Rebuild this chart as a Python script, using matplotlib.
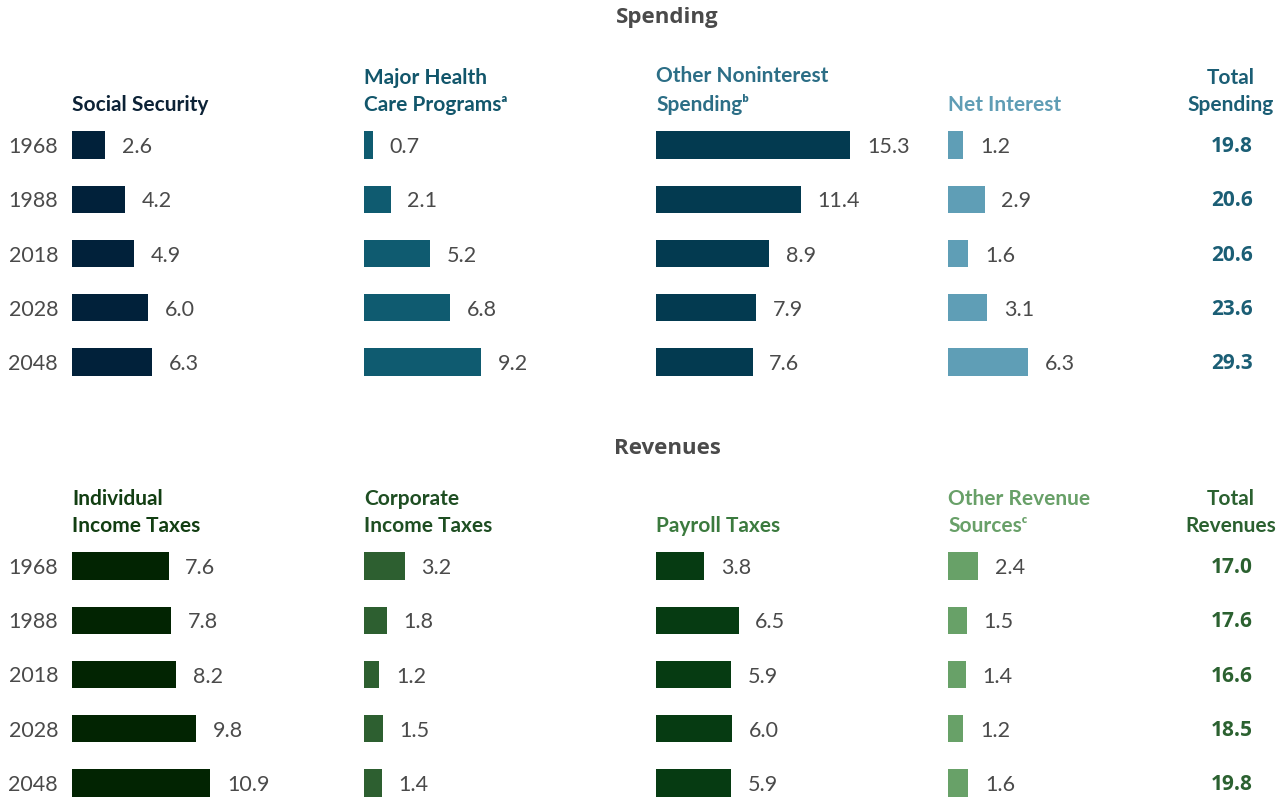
#!/usr/bin/python3
# -*- coding: utf-8 -*-
import matplotlib
matplotlib.use('Agg')
import matplotlib.pyplot as plt

plt.rcParams['font.family'] = ['Lato', 'DejaVu Sans']

years = ['1968', '1988', '2018', '2028', '2048']

# spending, percent of GDP
social_security = [2.6, 4.2, 4.9, 6.0, 6.3]
health_care = [0.7, 2.1, 5.2, 6.8, 9.2]
other_noninterest = [15.3, 11.4, 8.9, 7.9, 7.6]
net_interest = [1.2, 2.9, 1.6, 3.1, 6.3]
total_spending = [19.8, 20.6, 20.6, 23.6, 29.3]

# revenues, percent of GDP
individual_income = [7.6, 7.8, 8.2, 9.8, 10.9]
corporate_income = [3.2, 1.8, 1.2, 1.5, 1.4]
payroll = [3.8, 6.5, 5.9, 6.0, 5.9]
other_revenue = [2.4, 1.5, 1.4, 1.2, 1.6]
total_revenues = [17.0, 17.6, 16.6, 18.5, 19.8]

spending_panels = [
    ('Social Security', social_security, '#01213a', '#0c2236'),
    ('Major Health\nCare Programs\u1d43', health_care, '#0f5b70', '#12566b'),
    ('Other Noninterest\nSpending\u1d47', other_noninterest, '#033a50', '#2c6e86'),
    ('Net Interest', net_interest, '#5f9eb6', '#5f9db5'),
]
revenue_panels = [
    ('Individual\nIncome Taxes', individual_income, '#022402', '#123e12'),
    ('Corporate\nIncome Taxes', corporate_income, '#2d5f30', '#1e4e22'),
    ('Payroll Taxes', payroll, '#063b12', '#3b7a3e'),
    ('Other Revenue\nSources\u1d9c', other_revenue, '#68a168', '#68a068'),
]

W, H = 1280, 798
PX_PER_UNIT = 12.7
PANEL_W = 280
panel_left = [72, 364, 656, 948]
text_gray = '#4a4a4a'

fig = plt.figure(figsize=(W / 100, H / 100), dpi=100)


def fx(px):
    return px / W


def fy(py):
    return 1 - py / H


def draw_section(title, title_y, panels, first_row, total_label, totals, total_color):
    fig.text(fx(667), fy(title_y), title, ha='center', va='center', fontsize=16,
             fontweight='bold', color=text_gray, family=['Open Sans', 'DejaVu Sans'])
    row_gap = 54.25
    top = first_row - row_gap / 2
    height = row_gap * len(years)
    for i, (name, vals, bar_color, head_color) in enumerate(panels):
        ax = fig.add_axes([fx(panel_left[i]), fy(top + height), fx(PANEL_W), height / H])
        ax.barh(range(len(years)), vals, height=0.5, color=bar_color)
        ax.set_xlim(0, PANEL_W / PX_PER_UNIT)
        ax.set_ylim(len(years) - 0.5, -0.5)
        for s in ax.spines.values():
            s.set_visible(False)
        ax.set_xticks([])
        if i == 0:
            ax.set_yticks(range(len(years)))
            ax.set_yticklabels(years, fontsize=15.5, color=text_gray)
            ax.tick_params(axis='y', length=0, pad=10)
        else:
            ax.set_yticks([])
        for j, v in enumerate(vals):
            ax.annotate(f'{v:.1f}', (v, j), xytext=(12, -1.5), textcoords='offset points',
                        ha='left', va='center', fontsize=15.5, color=text_gray)
        ax.text(0, 1.0 + 3 / height, name, transform=ax.transAxes, ha='left', va='bottom',
                fontsize=15, fontweight='bold', color=head_color, linespacing=1.45)
    # totals column
    fig.text(fx(1231), fy(top - 3), total_label, ha='center', va='bottom', fontsize=15,
             fontweight='bold', color=total_color, linespacing=1.45)
    tax = fig.add_axes([fx(1180), fy(top + height), fx(100), height / H])
    tax.set_ylim(len(years) - 0.5, -0.5)
    tax.set_xlim(0, 1)
    tax.axis('off')
    for j, v in enumerate(totals):
        tax.text(0.52, j + 0.03, f'{v:.1f}', ha='center', va='center', fontsize=15,
                 fontweight='bold', color=total_color, family=['Open Sans', 'DejaVu Sans'])


draw_section('Spending', 18, spending_panels, 145, 'Total\nSpending', total_spending, '#1b5e75')
draw_section('Revenues', 448, revenue_panels, 566, 'Total\nRevenues', total_revenues, '#2b6130')

fig.savefig('out.png', dpi=100)
